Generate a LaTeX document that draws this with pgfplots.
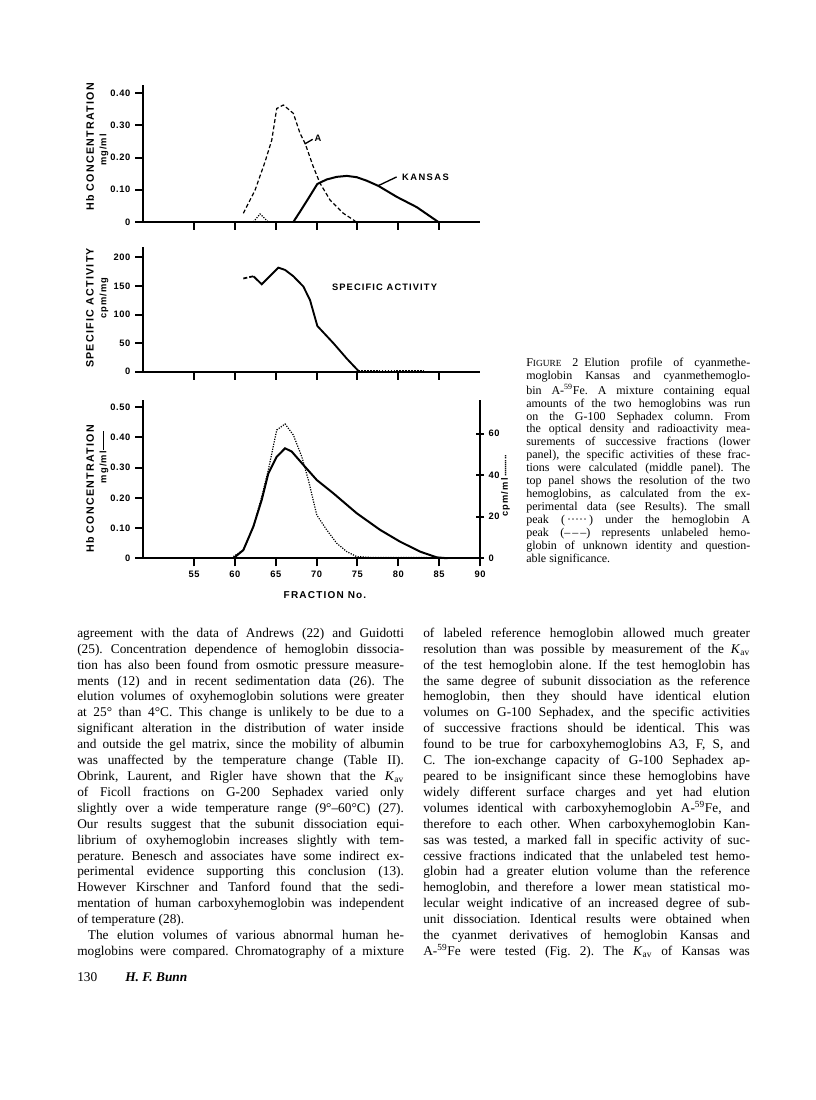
\documentclass[border=0pt]{standalone}
\usepackage{fontspec}
\setmainfont{Liberation Serif}
\usepackage{pgfplots}
\pgfplotsset{compat=1.18}
\newfontfamily\tickf{Liberation Sans}[LetterSpace=6]
\newfontfamily\labf{Liberation Sans}[LetterSpace=12]
\newfontfamily\labw{Liberation Sans}[LetterSpace=16]
\newlength\colw
\newcommand\J[1]{\makebox[\colw][s]{#1}\par}
\newcommand\E[1]{\makebox[\colw][l]{#1}\par}
\newcommand\Kav{\textit{K}\textsubscript{av}}
\newcommand\dotline[1]{\hbox to #1{\leaders\hbox to 1.6pt{\hss.\hss}\hfill}}
\pgfplotsset{
  panel/.style={
    scale only axis, width=252.75pt,
    xmin=48.75, xmax=90, ymin=0,
    axis x line=bottom, axis y line=left,
    axis line style={-, line width=1.7pt},
    tick align=outside, major tick length=6pt,
    tick style={black, line width=1.5pt},
    xtick={55,60,...,85},
    tick label style={font=\tickf\bfseries\fontsize{7}{8}\selectfont},
    /pgf/number format/assume math mode=true,
    clip=false,
  }
}
\begin{document}
\frenchspacing
\begin{tikzpicture}
\fill[white] (0,0) rectangle (612pt,825pt);
\useasboundingbox (0,0) rectangle (612pt,825pt);

% ---------- top panel ----------
\begin{axis}[panel, at={(107.25pt,658.5pt)}, anchor=south west,
  height=102.75pt, ymax=0.425, xticklabels={},
  ytick={0,0.1,0.2,0.3,0.4}, yticklabels={0,0.10,0.20,0.30,0.40}]
\addplot[black, line width=0.9pt, dash pattern=on 3pt off 1.8pt] coordinates {
 (61.03,0.027) (62.47,0.099) (63.69,0.187) (64.51,0.254) (65.12,0.352)
 (65.93,0.363) (67.15,0.337) (67.97,0.275) (68.59,0.244) (69.60,0.171)
 (70.42,0.120) (71.65,0.068) (73.27,0.027) (74.71,0.003)};
\addplot[black, line width=0.9pt, densely dotted] coordinates {
 (62.26,0.0) (63.08,0.025) (64.09,0.0)};
\addplot[black, line width=1.5pt] coordinates {
 (67.15,0) (67.97,0.032) (68.99,0.073) (70.09,0.118) (71.24,0.132)
 (72.47,0.140) (73.69,0.143) (74.91,0.139) (76.14,0.128) (77.56,0.112)
 (79.81,0.078) (82.26,0.046) (84.9,0)};
\end{axis}
\draw[line width=1pt] (228.5pt,717pt) -- (234.5pt,720.5pt);
\node[font=\labw\bfseries\fontsize{7}{8}\selectfont] at (238.5pt,721pt) {A};
\draw[line width=1pt] (283.2pt,685.5pt) -- (297.5pt,692.3pt);
\node[font=\labw\bfseries\fontsize{7}{8}\selectfont, anchor=west] at (298pt,692.3pt) {KANSAS};
\node[rotate=90, font=\labf\bfseries\fontsize{8}{9}\selectfont] at (67.5pt,714.75pt) {Hb CONCENTRATION};
\node[rotate=90, font=\labf\bfseries\fontsize{7}{8}\selectfont] at (78pt,712.5pt) {mg/ml};

% ---------- middle panel ----------
\begin{axis}[panel, at={(107.25pt,546.2pt)}, anchor=south west,
  height=93.5pt, ymax=218, xticklabels={},
  ytick={0,50,100,150,200}]
\addplot[black, line width=1.3pt, dash pattern=on 3pt off 1.5pt] coordinates {
 (61.03,163) (62.26,167)};
\addplot[black, line width=1.4pt] coordinates {
 (62.26,167) (63.28,153) (65.32,182) (66.14,178) (67.15,167) (68.38,149)
 (69.2,125) (70.09,80) (72.05,50) (73.69,23) (75.11,1.5)};
\addplot[black, line width=1.7pt, dash pattern=on 1.2pt off 1pt] coordinates {
 (75.11,1.5) (83.3,1.5)};
\end{axis}
\node[font=\labf\bfseries\fontsize{7}{8}\selectfont] at (288.4pt,609.75pt) {SPECIFIC ACTIVITY};
\node[rotate=90, font=\labf\bfseries\fontsize{8}{9}\selectfont] at (67.5pt,594pt) {SPECIFIC ACTIVITY};
\node[rotate=90, font=\labf\bfseries\fontsize{7}{8}\selectfont] at (78pt,601.5pt) {cpm/mg};

% ---------- bottom panel ----------
\begin{axis}[panel, at={(107.25pt,406.3pt)}, anchor=south west,
  height=118.5pt, ymax=0.523, xtick={55,60,...,90},
  ytick={0,0.1,0.2,0.3,0.4,0.5}, yticklabels={0,0.10,0.20,0.30,0.40,0.50}]
\addplot[black, line width=1.5pt] coordinates {
 (59.81,0) (61.03,0.027) (62.26,0.105) (63.28,0.193) (64.09,0.281)
 (65.12,0.336) (66.14,0.364) (66.96,0.353) (68.38,0.309) (70.02,0.259)
 (72.05,0.215) (74.91,0.149) (77.77,0.094) (80.21,0.055) (82.66,0.022)
 (84.7,0.003) (86.0,0)};
\end{axis}
\begin{axis}[panel, at={(107.25pt,406.3pt)}, anchor=south west,
  height=118.5pt, ymax=76, axis x line=none, axis y line=right,
  axis line style={-, line width=1.7pt},
  ytick={0,20,40,60}]
\addplot[black, line width=0.9pt, densely dotted] coordinates {
 (59.81,0.8) (61.03,4.0) (62.26,15.2) (63.28,29.6) (64.09,42.5)
 (65.12,61.7) (66.14,64.6) (67.15,59.3) (68.18,48.9) (68.99,37.7)
 (70.02,20.8) (71.24,13.6) (72.47,7.2) (73.69,3.2) (74.91,0.8)
 (76.54,0.4) (83.07,0.4) (85.2,0)};
\end{axis}
\node[rotate=90, font=\labf\bfseries\fontsize{8}{9}\selectfont] at (67.5pt,458.25pt) {Hb CONCENTRATION};
\node[rotate=90, font=\labf\bfseries\fontsize{7}{8}\selectfont] at (78pt,482.25pt)
  {mg/ml\,\rule[0.5ex]{14pt}{0.8pt}};
\node[rotate=90, font=\labf\bfseries\fontsize{7}{8}\selectfont] at (379pt,460.5pt)
  {cpm/ml\,\raisebox{0.3ex}{\dotline{16pt}}};
\node[font=\labf\bfseries\fontsize{7.5}{9}\selectfont] at (243.75pt,378.75pt) {FRACTION No.};

% ---------- caption ----------
\setlength\colw{168pt}
\node[anchor=base west, inner sep=0pt] at (394.5pt,549.75pt) {\parbox[t]{\colw}{%
\fontsize{9}{9.68}\selectfont\parindent=0pt\parskip=0pt
\J{F{\fontsize{7}{8}\selectfont IGURE} 2\enspace Elution profile of cyanmethe-}
\J{moglobin Kansas and cyanmethemoglo-}
\J{bin A-\textsuperscript{59}Fe. A mixture containing equal}
\J{amounts of the two hemoglobins was run}
\J{on the G-100 Sephadex column. From}
\J{the optical density and radioactivity mea-}
\J{surements of successive fractions (lower}
\J{panel), the specific activities of these frac-}
\J{tions were calculated (middle panel). The}
\J{top panel shows the resolution of the two}
\J{hemoglobins, as calculated from the ex-}
\J{perimental data (see Results). The small}
\J{peak (\,·····\,) under the hemoglobin A}
\J{peak (–\,–\,–) represents unlabeled hemo-}
\J{globin of unknown identity and question-}
\E{able significance.}}};

% ---------- body text ----------
\setlength\colw{245pt}
\node[anchor=base west, inner sep=0pt] at (57.75pt,347pt) {\parbox[t]{\colw}{%
\fontsize{10}{11.93}\selectfont\parindent=0pt\parskip=0pt
\J{agreement with the data of Andrews (22) and Guidotti}
\J{(25). Concentration dependence of hemoglobin dissocia-}
\J{tion has also been found from osmotic pressure measure-}
\J{ments (12) and in recent sedimentation data (26). The}
\J{elution volumes of oxyhemoglobin solutions were greater}
\J{at 25° than 4°C. This change is unlikely to be due to a}
\J{significant alteration in the distribution of water inside}
\J{and outside the gel matrix, since the mobility of albumin}
\J{was unaffected by the temperature change (Table II).}
\J{Obrink, Laurent, and Rigler have shown that the \Kav}
\J{of Ficoll fractions on G-200 Sephadex varied only}
\J{slightly over a wide temperature range (9°–60°C) (27).}
\J{Our results suggest that the subunit dissociation equi-}
\J{librium of oxyhemoglobin increases slightly with tem-}
\J{perature. Benesch and associates have some indirect ex-}
\J{perimental evidence supporting this conclusion (13).}
\J{However Kirschner and Tanford found that the sedi-}
\J{mentation of human carboxyhemoglobin was independent}
\E{of temperature (28).}
\J{\hspace*{0.8em}The elution volumes of various abnormal human he-}
\J{moglobins were compared. Chromatography of a mixture}}};

\node[anchor=base west, inner sep=0pt] at (317.25pt,347pt) {\parbox[t]{\colw}{%
\fontsize{10}{11.93}\selectfont\parindent=0pt\parskip=0pt
\J{of labeled reference hemoglobin allowed much greater}
\J{resolution than was possible by measurement of the \Kav}
\J{of the test hemoglobin alone. If the test hemoglobin has}
\J{the same degree of subunit dissociation as the reference}
\J{hemoglobin, then they should have identical elution}
\J{volumes on G-100 Sephadex, and the specific activities}
\J{of successive fractions should be identical. This was}
\J{found to be true for carboxyhemoglobins A3, F, S, and}
\J{C. The ion-exchange capacity of G-100 Sephadex ap-}
\J{peared to be insignificant since these hemoglobins have}
\J{widely different surface charges and yet had elution}
\J{volumes identical with carboxyhemoglobin A-\textsuperscript{59}Fe, and}
\J{therefore to each other. When carboxyhemoglobin Kan-}
\J{sas was tested, a marked fall in specific activity of suc-}
\J{cessive fractions indicated that the unlabeled test hemo-}
\J{globin had a greater elution volume than the reference}
\J{hemoglobin, and therefore a lower mean statistical mo-}
\J{lecular weight indicative of an increased degree of sub-}
\J{unit dissociation. Identical results were obtained when}
\J{the cyanmet derivatives of hemoglobin Kansas and}
\J{A-\textsuperscript{59}Fe were tested (Fig. 2). The \Kav{} of Kansas was}}};

% ---------- footer ----------
\node[anchor=base west, inner sep=0pt, font=\fontsize{10}{12}\selectfont] at (57.75pt,88.5pt) {130};
\node[anchor=base west, inner sep=0pt, font=\fontsize{10}{12}\selectfont\bfseries\itshape] at (93.75pt,88.5pt) {H. F. Bunn};
\end{tikzpicture}
\end{document}
